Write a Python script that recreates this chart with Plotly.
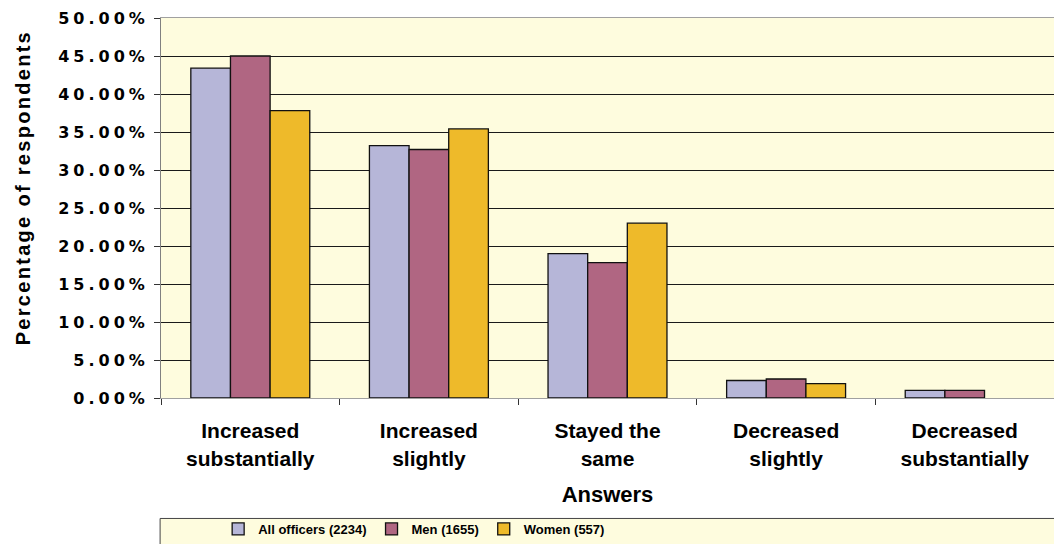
import plotly.graph_objects as go

categories = ["Increased<br>substantially", "Increased<br>slightly", "Stayed the<br>same",
              "Decreased<br>slightly", "Decreased<br>substantially"]
all_officers = [43.4, 33.2, 19.0, 2.3, 1.0]
men = [45.0, 32.7, 17.8, 2.5, 1.0]
women = [37.8, 35.4, 23.0, 1.9, None]
series_names = ["All officers (2234)", "Men (1655)", "Women (557)"]
series_colors = ["#B6B6D8", "#B06682", "#EEBA2A"]
y_ticks = [0, 5, 10, 15, 20, 25, 30, 35, 40, 45, 50]
y_tick_labels = ["0.00%", "5.00%", "10.00%", "15.00%", "20.00%", "25.00%",
                 "30.00%", "35.00%", "40.00%", "45.00%", "50.00%"]

BG = "#FEFCDE"
fig = go.Figure()
for name, vals, col in zip(series_names, [all_officers, men, women], series_colors):
    fig.add_trace(go.Bar(x=categories, y=vals, name=name, marker_color=col,
                         marker_line_color="#111111", marker_line_width=1.3))

fig.update_layout(
    width=1054, height=544,
    margin=dict(l=161, r=0, t=18, b=145),
    paper_bgcolor="white", plot_bgcolor=BG,
    barmode="group", bargap=0.334, bargroupgap=0,
    font=dict(family="Liberation Sans, Arial", color="black"),
    showlegend=True,
    legend=dict(orientation="h", x=0.064, xanchor="left", y=-0.344, yanchor="middle",
                bgcolor="rgba(0,0,0,0)", font=dict(size=13, weight="bold"),
                traceorder="normal"),
    xaxis=dict(type="category", tickson="boundaries", ticks="outside", ticklen=6,
               tickcolor="#333333", showline=True, linecolor="#A0A0A0", linewidth=1,
               mirror=True, showgrid=False,
               tickfont=dict(size=21, weight="bold"), ticklabelstandoff=14,
               title=dict(text="Answers", font=dict(size=22, weight="bold"), standoff=18)),
    yaxis=dict(range=[0, 50], tickvals=y_ticks, ticktext=y_tick_labels,
               ticks="outside", ticklen=6, tickcolor="#333333",
               showline=True, linecolor="#808080", linewidth=1,
               showgrid=True, gridcolor="#1A1A1A", gridwidth=1, zeroline=False,
               tickfont=dict(family="DejaVu Sans", size=16, weight="bold"),
               ticklabelstandoff=2),
    shapes=[dict(type="rect", xref="paper", yref="paper", x0=-0.001, x1=1.2,
                 y0=-0.317, y1=-0.6, fillcolor=BG, line=dict(color="#444444", width=1),
                 layer="below")],
    annotations=[dict(text="Percentage of respondents", xref="paper", yref="paper",
                      x=(23 - 161) / 893, y=(399 - 188) / 381, textangle=-90,
                      showarrow=False, xanchor="center", yanchor="middle",
                      font=dict(size=20, weight="bold"))],
)

post = """
document.body.style.margin = '0';
var gd = document.getElementById('{plot_id}');
function applyLS(){
  gd.querySelectorAll('.ytick text').forEach(function(t){ t.style.letterSpacing='4px'; });
  gd.querySelectorAll('.annotation text').forEach(function(t){ t.style.letterSpacing='2.3px'; });
}
applyLS();
gd.on('plotly_afterplot', applyLS);
"""
fig.write_html("out.html", post_script=post, config={"displayModeBar": False})
